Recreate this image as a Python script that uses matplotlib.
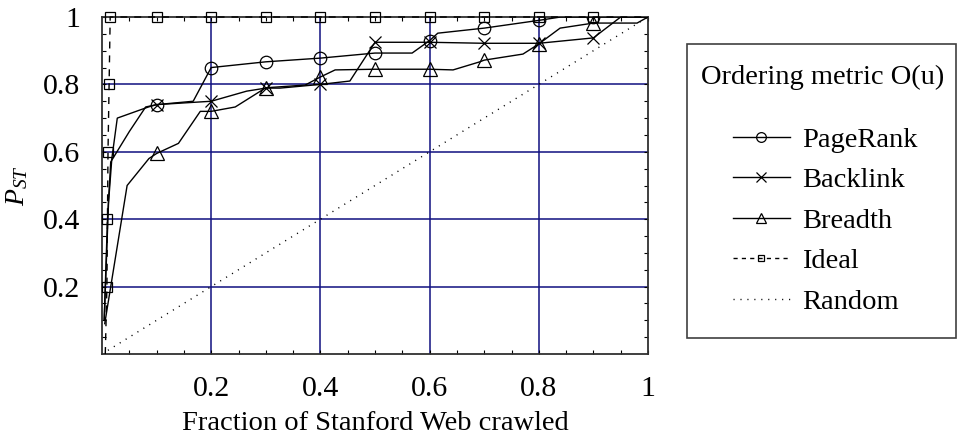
import numpy as np
import matplotlib
matplotlib.use("Agg")
import matplotlib.pyplot as plt
from matplotlib.lines import Line2D
from matplotlib.patches import Rectangle

plt.rcParams['font.family'] = ['Liberation Serif', 'DejaVu Serif']
plt.rcParams['mathtext.fontset'] = 'custom'
plt.rcParams['mathtext.rm'] = 'Liberation Serif'
plt.rcParams['mathtext.it'] = 'Liberation Serif:italic'

# ---- data ----
pagerank_x = [0.004, 0.012, 0.018, 0.028, 0.085, 0.1, 0.167, 0.2, 0.3, 0.4, 0.5, 0.568, 0.6, 0.615,
              0.7, 0.8, 0.84, 0.9, 1.0]
pagerank_y = [0.10, 0.45, 0.58, 0.70, 0.733, 0.74, 0.75, 0.85, 0.867, 0.878, 0.893, 0.893, 0.93, 0.952,
              0.967, 0.99, 1.0, 1.0, 1.0]

backlink_x = [0.004, 0.010, 0.016, 0.05, 0.08, 0.1, 0.2, 0.265, 0.3, 0.326, 0.4, 0.454, 0.5, 0.6,
              0.7, 0.8, 0.9, 0.95, 1.0]
backlink_y = [0.10, 0.40, 0.57, 0.66, 0.733, 0.74, 0.75, 0.78, 0.789, 0.789, 0.80, 0.81, 0.925, 0.925,
              0.922, 0.922, 0.938, 1.0, 1.0]

breadth_x = [0.005, 0.046, 0.086, 0.1, 0.14, 0.18, 0.2, 0.244, 0.3, 0.372, 0.4, 0.427, 0.5, 0.6, 0.643,
             0.692, 0.7, 0.771, 0.8, 0.839, 0.9, 0.98, 1.0]
breadth_y = [0.09, 0.50, 0.58, 0.595, 0.625, 0.72, 0.72, 0.733, 0.79, 0.798, 0.822, 0.843, 0.845, 0.845, 0.843,
             0.867, 0.872, 0.89, 0.92, 0.967, 0.982, 0.982, 1.0]

ideal_x = [0.006, 0.009, 0.010, 0.011, 0.013, 0.015, 0.1, 0.2, 0.3, 0.4, 0.5, 0.6, 0.7, 0.8, 0.9, 1.0]
ideal_y = [0.0, 0.2, 0.4, 0.6, 0.8, 1.0, 1.0, 1.0, 1.0, 1.0, 1.0, 1.0, 1.0, 1.0, 1.0, 1.0]

random_x = [0.0, 1.0]
random_y = [0.0, 1.0]

tick_values = [0.2, 0.4, 0.6, 0.8, 1.0]
tick_labels = ['0.2', '0.4', '0.6', '0.8', '1']
series_labels = ['PageRank', 'Backlink', 'Breadth', 'Ideal', 'Random']
legend_title = 'Ordering metric O(u)'
xlabel = 'Fraction of Stanford Web crawled'
ylabel = r'$P_{ST}$'

# ---- figure ----
W, H = 959, 443
fig = plt.figure(figsize=(W / 100, H / 100), dpi=100)
ax = fig.add_axes([102 / W, 1 - 354 / H, (648 - 102) / W, (354 - 17) / H])
ax.set_xlim(0, 1)
ax.set_ylim(0, 1)

grid_c = '#101080'
for v in tick_values[:-1]:
    ax.axvline(v, color=grid_c, lw=1.1, zorder=1)
    ax.axhline(v, color=grid_c, lw=1.1, zorder=1)


def marker_idx(xs):
    return [i for i, x in enumerate(xs) if abs(x * 10 - round(x * 10)) < 1e-6 and 0.05 < x < 0.95]


ax.plot(random_x, random_y, color='black', lw=1.0, ls=(0, (0.8, 4.2)), zorder=2)
ax.plot(ideal_x, ideal_y, color='black', lw=1.0, ls=(0, (5, 5)), marker='s', ms=6.5,
        mfc='none', mec='black', mew=0.9, markevery=list(range(1, len(ideal_x) - 1)), zorder=3,
        clip_on=False)
ax.plot(pagerank_x, pagerank_y, color='black', lw=1.0, marker='o', ms=9, mfc='none', mew=0.9,
        markevery=marker_idx(pagerank_x), zorder=3)
ax.plot(backlink_x, backlink_y, color='black', lw=1.0, marker='x', ms=9, mew=0.9,
        markevery=marker_idx(backlink_x), zorder=3)
ax.plot(breadth_x, breadth_y, color='black', lw=1.0, marker='^', ms=9.5, mfc='none', mew=0.9,
        markevery=marker_idx(breadth_x), zorder=3)

ax.set_xticks(tick_values)
ax.set_xticklabels(tick_labels)
ax.set_yticks(tick_values)
ax.set_yticklabels(tick_labels)
ax.set_xticks(np.arange(0.05, 1.0, 0.05), minor=True)
ax.set_yticks(np.arange(0.05, 1.0, 0.05), minor=True)
ax.tick_params(which='both', direction='in', top=True, right=True, length=3, width=0.8,
               labelsize=21.5, pad=16)
for s in ax.spines.values():
    s.set_linewidth(1.3)
    s.set_color('#303030')

ax.set_xlabel(xlabel, fontsize=20.5, labelpad=6)
ax.set_ylabel(ylabel, fontsize=20, labelpad=9)

# ---- legend ----
fig.patches.append(Rectangle((687 / W, 1 - 338 / H), (956 - 687) / W, (338 - 44) / H,
                             transform=fig.transFigure, fill=False, ec='#404040', lw=1.2))
fig.text(823 / W, 1 - 77 / H, legend_title, ha='center', va='center', fontsize=20.5)
handles = [
    Line2D([], [], color='black', lw=1.0, marker='o', ms=7, mfc='none', mew=0.9),
    Line2D([], [], color='black', lw=1.0, marker='x', ms=7, mew=0.9),
    Line2D([], [], color='black', lw=1.0, marker='^', ms=7, mfc='none', mew=0.9),
    Line2D([], [], color='black', lw=1.0, ls=(0, (3, 3)), marker='s', ms=5, mfc='none', mew=0.9),
    Line2D([], [], color='black', lw=1.0, ls=(0, (0.8, 4.2))),
]
fig.legend(handles, series_labels, loc='upper left', bbox_to_anchor=(733 / W, 1 - 127 / H),
           frameon=False, fontsize=20.5, handlelength=2.0, handletextpad=0.42, labelspacing=0.51,
           borderpad=0, borderaxespad=0)

fig.savefig('out.png', dpi=100)
